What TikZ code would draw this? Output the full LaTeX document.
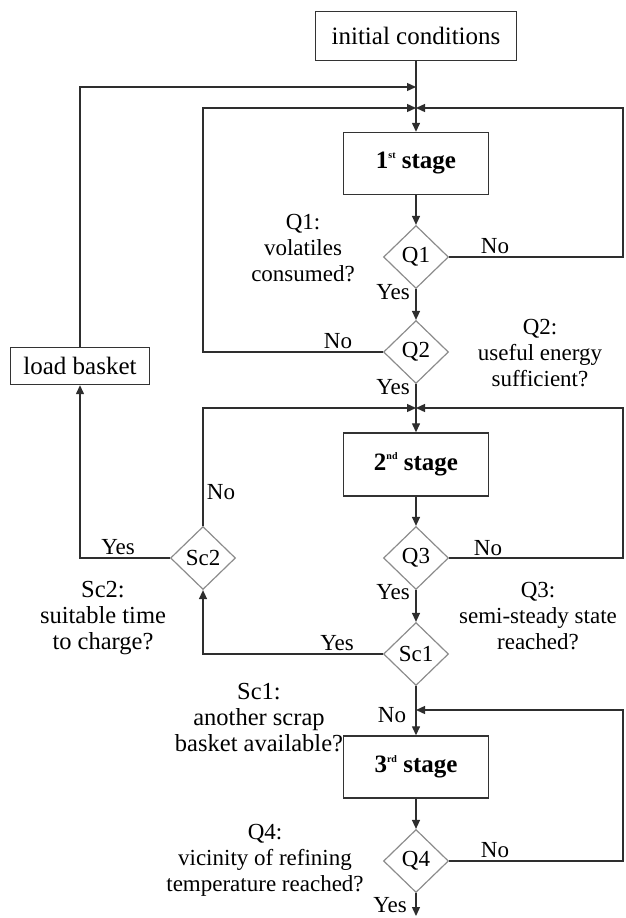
\documentclass[tikz,border=0pt]{standalone}
\usepackage{fontspec}
\setmainfont{Liberation Serif}
\usetikzlibrary{shapes.geometric,arrows.meta}
\newcommand\stsup[1]{\raisebox{0.42em}{\fontsize{10}{10}\selectfont #1}}
\begin{document}
\begin{tikzpicture}[x=1pt,y=-1pt,
  line/.style={draw=black!82, line width=1.35pt},
  arr/.style={line, -{Triangle[length=9pt,width=8pt]}},
  box/.style={draw=black!80, line width=1.4pt, rectangle, inner sep=0pt, font=\fontsize{25}{28}\selectfont},
  stagebox/.style={box, minimum width=145pt, minimum height=62pt, font=\fontsize{25}{28}\selectfont\bfseries},
  dia/.style={diamond, draw=black!45, line width=1.2pt, minimum width=65pt, minimum height=63pt, inner sep=0pt, aspect=1, font=\fontsize{23}{26}\selectfont},
  lbl/.style={font=\fontsize{23}{26}\selectfont, inner sep=0pt},
  desc/.style={lbl, align=center},
  descsc/.style={desc, font=\fontsize{24.5}{26}\selectfont},
]
\path[use as bounding box] (0,0) rectangle (625,918);

% nodes
\node[box, minimum width=201pt, minimum height=49pt] (init) at (416,36) {initial conditions};
\node[stagebox] (s1) at (416,163.5) {1\stsup{st} stage};
\node[dia] (q1) at (416,257) {Q1};
\node[dia] (q2) at (416,352) {Q2};
\node[stagebox, minimum height=63pt] (s2) at (416,464.5) {2\stsup{nd} stage};
\node[dia] (q3) at (416,558) {Q3};
\node[dia] (sc1) at (416,654) {Sc1};
\node[dia] (sc2) at (203,558) {Sc2};
\node[box, minimum width=139pt, minimum height=37pt] (lb) at (80,366) {load basket};
\node[stagebox] (s3) at (416,767) {3\stsup{rd} stage};
\node[dia] (q4) at (416,861) {Q4};

% junction coordinates
\coordinate (m1) at (416,87);
\coordinate (m2) at (416,108);
\coordinate (m3) at (416,408);
\coordinate (m4) at (416,710);
\coordinate (r1) at (623,108);
\coordinate (r3) at (623,408);
\coordinate (r4) at (623,710);
\coordinate (l2) at (203,108);
\coordinate (end) at (416,916);

% connectors
\draw[line] (init.south) -- (m2);
\draw[arr] (m2) -- (s1.north);
\draw[arr] (lb.north) |- (m1);
\draw[arr] (q2.west) -| (l2) -- (m2);
\draw[arr] (q1.east) -| (r1) -- (m2);
\draw[arr] (s1.south) -- (q1.north);
\draw[arr] (q1.south) -- (q2.north);
\draw[line] (q2.south) -- (m3);
\draw[arr] (m3) -- (s2.north);
\draw[arr] (sc2.north) |- (m3);
\draw[arr] (q3.east) -| (r3) -- (m3);
\draw[arr] (s2.south) -- (q3.north);
\draw[arr] (q3.south) -- (sc1.north);
\draw[arr] (sc1.west) -| (sc2.south);
\draw[arr] (sc2.west) -| (lb.south);
\draw[arr] (sc1.south) -- (s3.north);
\draw[arr] (q4.east) -| (r4) -- (m4);
\draw[arr] (s3.south) -- (q4.north);
\draw[arr] (q4.south) -- (end);

% yes / no labels
\node[lbl] (q1no) at (495,246) {No};
\node[lbl] (q1yes) at (393,292) {Yes};
\node[lbl] (q2no) at (338,341) {No};
\node[lbl] (q2yes) at (393,387) {Yes};
\node[lbl] (sc2no) at (221,492) {No};
\node[lbl] (sc2yes) at (118,547) {Yes};
\node[lbl] (q3no) at (488,548) {No};
\node[lbl] (q3yes) at (393,592) {Yes};
\node[lbl] (sc1yes) at (337,643) {Yes};
\node[lbl] (sc1no) at (392,715) {No};
\node[lbl] (q4no) at (495,850) {No};
\node[lbl] (q4yes) at (390,905) {Yes};

% descriptions
\node[desc] (q1d) at (303,248) {Q1:\\volatiles\\consumed?};
\node[desc] (q2d) at (540,353) {Q2:\\useful energy\\sufficient?};
\node[desc] (q3d) at (538,616) {Q3:\\semi-steady state\\reached?};
\node[descsc] (sc2d) at (103,618) {Sc2:\\suitable time\\to charge?};
\node[descsc] (sc1d) at (259,718) {Sc1:\\another scrap\\basket available?};
\node[desc] (q4d) at (265,860) {Q4:\\vicinity of refining\\temperature reached?};
\end{tikzpicture}
\end{document}
